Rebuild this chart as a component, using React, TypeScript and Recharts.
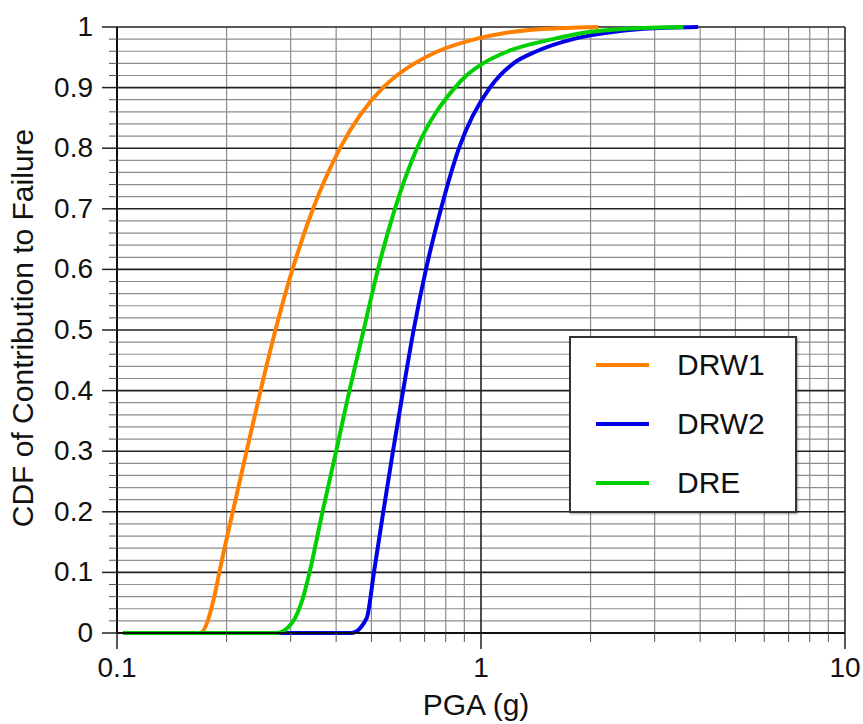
import { CartesianGrid, Legend, Line, LineChart, XAxis, YAxis } from "recharts";

const DRW1_X = [0.104, 0.169, 0.186, 0.191, 0.208, 0.227, 0.248, 0.2725, 0.3034, 0.3456, 0.41, 0.538, 0.587, 0.657, 0.762, 0.965, 1.164, 1.36, 2.1];
const DRW1_Y = [0, 0, 0.066, 0.1, 0.2, 0.3, 0.4, 0.5, 0.6, 0.7, 0.8, 0.9, 0.92, 0.94, 0.96, 0.98, 0.99, 0.995, 1];

const DRW2_X = [0.104, 0.441, 0.485, 0.508, 0.539, 0.573, 0.611, 0.653, 0.706, 0.7765, 0.87, 1.058, 1.128, 1.228, 1.422, 1.789, 2.19, 2.8, 3.95];
const DRW2_Y = [0, 0, 0.024, 0.1, 0.2, 0.3, 0.4, 0.5, 0.6, 0.7, 0.8, 0.9, 0.92, 0.94, 0.96, 0.98, 0.99, 0.997, 1];

const DRE_X = [0.104, 0.275, 0.302, 0.325, 0.338, 0.367, 0.4, 0.435, 0.476, 0.521, 0.58, 0.667, 0.848, 0.912, 1.013, 1.187, 1.577, 1.9, 2.5, 3.6];
const DRE_Y = [0, 0, 0.016, 0.06, 0.1, 0.2, 0.3, 0.4, 0.5, 0.6, 0.7, 0.8, 0.9, 0.92, 0.94, 0.96, 0.98, 0.99, 0.997, 1];

const X_MAJOR = [0.1, 1, 10];
const X_MINOR = [0.2, 0.3, 0.4, 0.5, 0.6, 0.7, 0.8, 0.9, 2, 3, 4, 5, 6, 7, 8, 9];
const Y_MAJOR = [0, 0.1, 0.2, 0.3, 0.4, 0.5, 0.6, 0.7, 0.8, 0.9, 1];
const Y_MINOR = Y_MAJOR.slice(0, -1).flatMap((v) =>
  [0.02, 0.04, 0.06, 0.08].map((d) => +(v + d).toFixed(2)),
);

const ALL_X = [...X_MAJOR, ...X_MINOR].sort((a, b) => a - b);
const ALL_Y = [...Y_MAJOR, ...Y_MINOR].sort((a, b) => a - b);

const SERIES = [
  { name: "DRW1", color: "#ff8000", xs: DRW1_X, ys: DRW1_Y },
  { name: "DRW2", color: "#0000e6", xs: DRW2_X, ys: DRW2_Y },
  { name: "DRE", color: "#00d000", xs: DRE_X, ys: DRE_Y },
];
const SERIES_ORDER = SERIES.map((s) => s.name);

const FONT = "'Liberation Sans', Arial, Helvetica, sans-serif";

function YTick(props: any) {
  const { x, y, payload } = props;
  const major = Y_MAJOR.includes(payload.value);
  return (
    <g>
      <line
        x1={x - (major ? 15 : 8)}
        x2={x}
        y1={y}
        y2={y}
        stroke={major ? "#222" : "#555"}
        strokeWidth={major ? 1.5 : 1}
      />
      {major && (
        <text x={x - 24} y={y + 9} textAnchor="end" fontSize={28} fontFamily={FONT} fill="#111">
          {payload.value}
        </text>
      )}
    </g>
  );
}

function XTick(props: any) {
  const { x, y, payload } = props;
  const major = X_MAJOR.includes(payload.value);
  return (
    <g>
      <line
        x1={x}
        x2={x}
        y1={y}
        y2={y + (major ? 16 : 9)}
        stroke={major ? "#222" : "#555"}
        strokeWidth={major ? 1.5 : 1}
      />
      {major && (
        <text x={x} y={y + 44} textAnchor="middle" fontSize={28} fontFamily={FONT} fill="#111">
          {payload.value}
        </text>
      )}
    </g>
  );
}

function LegendBox(props: any) {
  // keep the series order (Recharts sorts legend items by name otherwise)
  const items = [...(props.payload ?? [])].sort(
    (a: any, b: any) => SERIES_ORDER.indexOf(a.value) - SERIES_ORDER.indexOf(b.value),
  );
  return (
    <div
      style={{
        width: 224,
        height: 173,
        border: "2px solid #333",
        background: "#fff",
        boxShadow: "1px 1px 2px rgba(0,0,0,0.35)",
        fontFamily: FONT,
        fontSize: 30,
        color: "#111",
        position: "relative",
      }}
    >
      {items.map((it: any, i: number) => (
        <div
          key={it.value}
          style={{
            position: "absolute",
            left: 0,
            top: 27 + i * 59 - 18,
            height: 36,
            display: "flex",
            alignItems: "center",
          }}
        >
          <span
            style={{
              display: "inline-block",
              marginLeft: 25,
              width: 53,
              height: 4,
              background: it.color,
            }}
          />
          <span style={{ marginLeft: 28, lineHeight: "36px" }}>{it.value}</span>
        </div>
      ))}
    </div>
  );
}

export default function App() {
  return (
    <div style={{ position: "absolute", left: 0, top: 0, background: "#fff" }}>
      <LineChart width={863} height={724} margin={{ top: 27, right: 18, bottom: 0, left: 0 }}>
        <CartesianGrid
          horizontalValues={Y_MINOR}
          verticalValues={X_MINOR}
          stroke="#8c8c8c"
          strokeWidth={1.2}
        />
        <CartesianGrid
          horizontalValues={Y_MAJOR}
          verticalValues={X_MAJOR}
          stroke="#222"
          strokeWidth={1.6}
        />
        <XAxis
          dataKey="x"
          type="number"
          scale="log"
          domain={[0.1, 10]}
          ticks={ALL_X}
          interval={0}
          height={91}
          tickSize={0}
          tickMargin={0}
          tick={<XTick />}
          axisLine={{ stroke: "#111", strokeWidth: 2 }}
          label={() => (
            <text x={476} y={715} textAnchor="middle" fontSize={30} fontFamily={FONT} fill="#111">
              PGA (g)
            </text>
          )}
        />
        <YAxis
          type="number"
          domain={[0, 1]}
          ticks={ALL_Y}
          interval={0}
          width={117}
          tickSize={0}
          tickMargin={0}
          tick={<YTick />}
          axisLine={{ stroke: "#111", strokeWidth: 2 }}
          label={() => (
            <text
              x={33}
              y={328}
              transform="rotate(-90 33 328)"
              textAnchor="middle"
              fontSize={30}
              fontFamily={FONT}
              fill="#111"
            >
              CDF of Contribution to Failure
            </text>
          )}
        />
        <Legend
          layout="horizontal"
          verticalAlign="middle"
          align="center"
          content={<LegendBox />}
          wrapperStyle={{ left: 569, top: 336, width: 228, height: 177 }}
        />
        {SERIES.map((s) => (
          <Line
            key={s.name}
            name={s.name}
            data={s.xs.map((x, i) => ({ x, y: s.ys[i] }))}
            dataKey="y"
            type="monotone"
            stroke={s.color}
            strokeWidth={4}
            strokeLinejoin="round"
            dot={false}
            activeDot={false}
            isAnimationActive={false}
          />
        ))}
      </LineChart>
    </div>
  );
}
